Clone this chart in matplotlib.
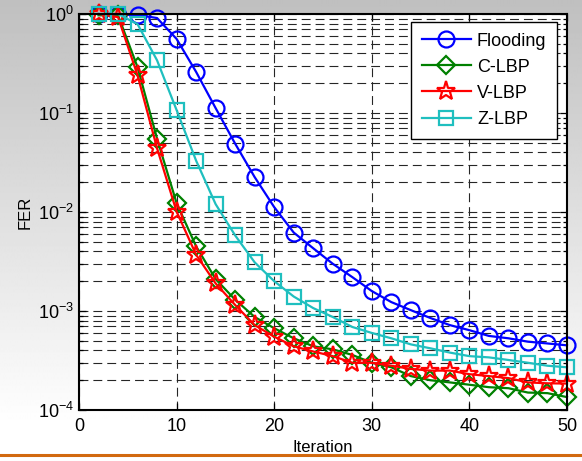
import matplotlib
matplotlib.use('Agg')
import matplotlib.pyplot as plt
import numpy as np
from matplotlib.ticker import LogLocator, FixedLocator

plt.rcParams['font.family'] = ['Liberation Sans', 'DejaVu Sans']
plt.rcParams['mathtext.fontset'] = 'custom'
plt.rcParams['mathtext.rm'] = 'Liberation Sans'
plt.rcParams['mathtext.it'] = 'Liberation Sans:italic'
plt.rcParams['mathtext.bf'] = 'Liberation Sans:bold'

# FER per decoding iteration (even iterations only)
iterations = list(range(2, 51, 2))
fer_flooding = [1.0, 0.98, 0.98, 0.91, 0.56, 0.26, 0.112, 0.049, 0.0225, 0.0112,
                0.0062, 0.0043, 0.0030, 0.0022, 0.00159, 0.00123, 0.00102, 0.00085,
                0.00072, 0.00064, 0.00056, 0.00053, 0.00049, 0.00047, 0.00045]
fer_clbp = [0.97, 0.97, 0.29, 0.055, 0.0123, 0.0045, 0.0021, 0.0013, 0.00087, 0.00067,
            0.00053, 0.00044, 0.00041, 0.00036, 0.00030, 0.00027, 0.00022, 0.00020,
            0.00019, 0.00018, 0.00017, 0.000166, 0.00015, 0.000148, 0.000135]
fer_vlbp = [1.0, 0.93, 0.24, 0.044, 0.0101, 0.0037, 0.0019, 0.00115, 0.00072, 0.00055,
            0.00044, 0.00039, 0.00035, 0.00030, 0.00030, 0.00028, 0.00026, 0.00025,
            0.00025, 0.00023, 0.00022, 0.00021, 0.00019, 0.000186, 0.000185]
fer_zlbp = [1.0, 1.0, 0.79, 0.34, 0.107, 0.033, 0.012, 0.0058, 0.0031, 0.0020,
            0.0014, 0.00107, 0.00087, 0.00069, 0.00060, 0.00053, 0.00046, 0.00042,
            0.00038, 0.00035, 0.00034, 0.00032, 0.00030, 0.00028, 0.00027]

series = [
    ('Flooding', fer_flooding, '#0000ff', 'o', 11.5),
    ('C-LBP', fer_clbp, '#008000', 'D', 9.5),
    ('V-LBP', fer_vlbp, '#ff0000', '*', 14),
    ('Z-LBP', fer_zlbp, '#1fbfbf', 's', 10.5),
]

fig = plt.figure(figsize=(5.82, 4.61), dpi=100)

# grey-to-white backdrop behind the plot
bg = fig.add_axes([0, 0, 1, 1], zorder=-10)
grad = np.clip(np.linspace(0.75, 1.02, 461), 0, 1)
bg.imshow(np.tile(grad[:, None], (1, 10)), cmap='gray', vmin=0, vmax=1,
          aspect='auto', extent=[0, 1, 0, 1])
bg.plot([0, 1], [1 - 455 / 461, 1 - 455 / 461], color='#d2690f', lw=2.2,
        transform=bg.transAxes)
bg.set_xlim(0, 1)
bg.set_ylim(0, 1)
bg.axis('off')

ax = fig.add_axes([79 / 582, 1 - 410 / 461, 488 / 582, 396 / 461])
ax.set_facecolor('white')
for name, vals, color, marker, ms in series:
    ax.plot(iterations, vals, color=color, lw=1.6, marker=marker, ms=ms,
            mfc='none', mec=color, mew=1.6, label=name, clip_on=False)

ax.set_yscale('log')
ax.set_xlim(0, 50)
ax.set_ylim(1e-4, 1)
ax.xaxis.set_major_locator(FixedLocator([0, 10, 20, 30, 40, 50]))
ax.yaxis.set_major_locator(LogLocator(base=10, numticks=10))
ax.yaxis.set_minor_locator(LogLocator(base=10, subs=np.arange(2, 10), numticks=20))
ax.yaxis.set_minor_formatter(plt.NullFormatter())

dash = (0, (8, 4.5))
ax.grid(True, which='major', axis='both', color='0.15', lw=0.8, linestyle=dash)
ax.grid(True, which='minor', axis='y', color='0.15', lw=0.8, linestyle=dash)
ax.set_axisbelow(True)

ax.tick_params(which='both', direction='in', top=True, right=True, labelsize=13,
               width=0.9)
ax.tick_params(which='major', length=5)
ax.tick_params(axis='x', pad=6)
ax.tick_params(which='minor', length=3)
for s in ax.spines.values():
    s.set_linewidth(1.5)

ax.set_xlabel('Iteration', fontsize=12, labelpad=3)
ax.set_ylabel('FER', fontsize=12, labelpad=4)

leg = ax.legend(loc='upper right', fontsize=13, frameon=True, fancybox=False,
                handlelength=2.7, borderpad=0.6, labelspacing=0.5,
                handletextpad=0.35, borderaxespad=0.0,
                bbox_to_anchor=(0.98, 0.98))
leg.get_frame().set_edgecolor('black')
leg.get_frame().set_linewidth(1.0)
leg.get_frame().set_alpha(1.0)

fig.savefig('out.png', dpi=100)
